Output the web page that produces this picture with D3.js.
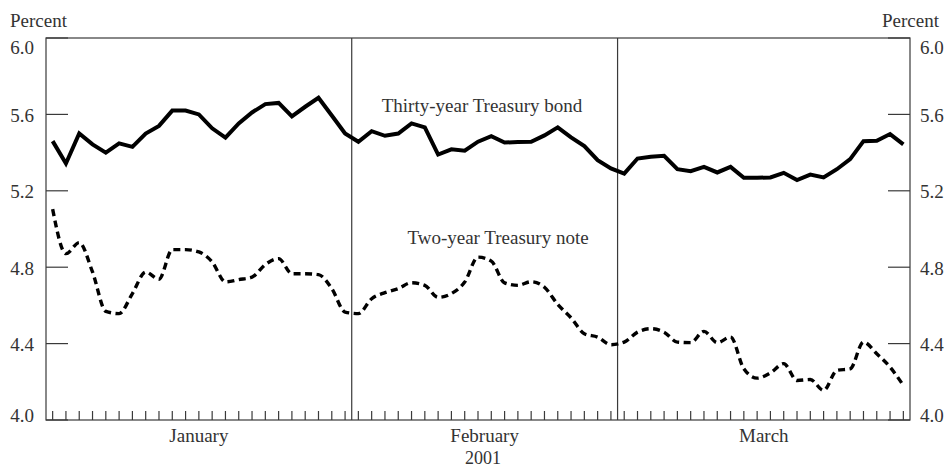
<!DOCTYPE html>
<html>
<head>
<meta charset="utf-8">
<script src="https://cdn.jsdelivr.net/npm/d3@7"></script>
<style>
  html, body { margin: 0; padding: 0; background: #fff; }
  svg { display: block; }
  text { font-family: "Liberation Serif", "DejaVu Serif", serif; fill: #333; }
</style>
</head>
<body>
<svg id="chart" width="949" height="468"></svg>
<script>
// ---- data ----
const months = ["January", "February", "March"];
const year = "2001";
const yTicks = [4.0, 4.4, 4.8, 5.2, 5.6, 6.0];
const bondLabel = "Thirty-year Treasury bond";
const noteLabel = "Two-year Treasury note";

// weekdays of Jan-Mar 2001 (one observation slot each)
const days = d3.timeDays(new Date(2001, 0, 1), new Date(2001, 3, 1))
  .filter(d => d.getDay() !== 0 && d.getDay() !== 6);

const bond = [
  5.46, 5.343, 5.50, 5.443, 5.40, 5.448, 5.43, 5.50, 5.54, 5.62,
  5.62, 5.60, 5.527, 5.478, 5.553, 5.61, 5.654, 5.66, 5.59, 5.64,
  5.687, 5.594, 5.50, 5.457, 5.512, 5.488, 5.50, 5.553, 5.532, 5.39,
  5.417, 5.41, 5.457, 5.486, 5.453, 5.455, 5.457, 5.49, 5.532, 5.48,
  5.434, 5.36, 5.317, 5.29, 5.369, 5.378, 5.383, 5.313, 5.303, 5.325,
  5.296, 5.325, 5.268, 5.268, 5.27, 5.294, 5.256, 5.285, 5.27, 5.313,
  5.366, 5.46, 5.462, 5.497, 5.443
];
const note = [
  5.104, 4.871, 4.929, 4.775, 4.569, 4.557, 4.662, 4.775, 4.737, 4.892,
  4.892, 4.88, 4.828, 4.723, 4.735, 4.748, 4.814, 4.845, 4.766, 4.766,
  4.761, 4.688, 4.565, 4.557, 4.635, 4.667, 4.688, 4.719, 4.705, 4.642,
  4.662, 4.722, 4.853, 4.832, 4.718, 4.705, 4.724, 4.695, 4.605, 4.535,
  4.452, 4.434, 4.394, 4.408, 4.46, 4.478, 4.46, 4.408, 4.405, 4.464,
  4.405, 4.434, 4.268, 4.219, 4.247, 4.295, 4.207, 4.212, 4.155, 4.26,
  4.268, 4.408, 4.347, 4.277, 4.181
];

// ---- layout ----
const L = 46, R = 910, T = 38, B = 420;
const svg = d3.select("#chart");
const axisColor = "#3a3a3a";

const x = d3.scaleBand().domain(d3.range(days.length)).range([L, R]).padding(0);
const xc = i => x(i) + x.bandwidth() / 2;
const y = d3.scaleLinear().domain([4, 6]).range([B, T]);

// frame
svg.append("rect").attr("x", L).attr("y", T).attr("width", R - L).attr("height", B - T)
  .attr("fill", "none").attr("stroke", axisColor).attr("stroke-width", 1.2);

// month separators
const monthStarts = months.map((m, k) => days.findIndex(d => d.getMonth() === k));
monthStarts.slice(1).forEach(i => {
  svg.append("line").attr("x1", x(i)).attr("x2", x(i)).attr("y1", T).attr("y2", B)
    .attr("stroke", axisColor).attr("stroke-width", 1.2);
});

// x ticks (each weekday)
svg.append("g").selectAll("line").data(d3.range(days.length)).join("line")
  .attr("x1", d => xc(d)).attr("x2", d => xc(d))
  .attr("y1", B).attr("y2", B - 9)
  .attr("stroke", axisColor).attr("stroke-width", 1.2);

// y ticks (inner) on both sides
const yt = svg.append("g");
yTicks.forEach(v => {
  yt.append("line").attr("x1", L).attr("x2", L + 22).attr("y1", y(v)).attr("y2", y(v))
    .attr("stroke", axisColor).attr("stroke-width", 1.2);
  yt.append("line").attr("x1", R - 22).attr("x2", R).attr("y1", y(v)).attr("y2", y(v))
    .attr("stroke", axisColor).attr("stroke-width", 1.2);
  const off = v === 6 ? 15.5 : (v === 4 ? 1.8 : 7.4);
  yt.append("text").attr("x", 34).attr("y", y(v) + off).attr("text-anchor", "end")
    .attr("font-size", 19).text(d3.format(".1f")(v));
  yt.append("text").attr("x", 920).attr("y", y(v) + off).attr("text-anchor", "start")
    .attr("font-size", 19).text(d3.format(".1f")(v));
});

svg.append("text").attr("x", 10).attr("y", 26.5).attr("font-size", 19).text("Percent");
svg.append("text").attr("x", 939).attr("y", 26.5).attr("text-anchor", "end").attr("font-size", 19).text("Percent");

// month labels
months.forEach((m, k) => {
  const s = monthStarts[k];
  const e = k < months.length - 1 ? monthStarts[k + 1] : days.length;
  const x0 = x(s), x1 = e < days.length ? x(e) : R;
  svg.append("text").attr("x", (x0 + x1) / 2).attr("y", 442).attr("text-anchor", "middle")
    .attr("font-size", 19).text(m);
});
svg.append("text").attr("x", (L + R) / 2 + 5).attr("y", 463.5).attr("text-anchor", "middle")
  .attr("font-size", 18).text(year);

// lines
const lineBond = d3.line().x((d, i) => xc(i)).y(d => y(d));
const lineNote = d3.line().x((d, i) => xc(i)).y(d => y(d)).curve(d3.curveMonotoneX);

svg.append("path").datum(bond).attr("d", lineBond)
  .attr("fill", "none").attr("stroke", "#000").attr("stroke-width", 4)
  .attr("stroke-linejoin", "miter");
svg.append("path").datum(note).attr("d", lineNote)
  .attr("fill", "none").attr("stroke", "#000").attr("stroke-width", 3.4)
  .attr("stroke-dasharray", "7,4.5");

// series labels
svg.append("text").attr("x", 482).attr("y", 111.5).attr("text-anchor", "middle")
  .attr("font-size", 19).text(bondLabel);
svg.append("text").attr("x", 498).attr("y", 243.5).attr("text-anchor", "middle")
  .attr("font-size", 19).text(noteLabel);
</script>
</body>
</html>
